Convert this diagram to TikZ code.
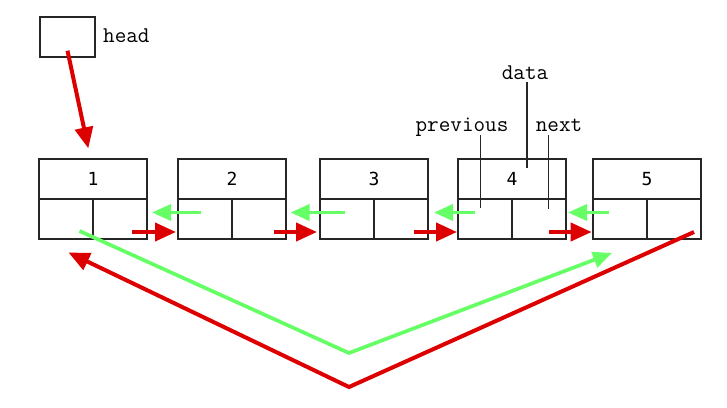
\documentclass[tikz,border=0pt]{standalone}
\usepackage{fontspec}
\newfontfamily\numfont{DejaVu Sans Mono}
\usetikzlibrary{arrows.meta,calc}
\definecolor{ptrred}{RGB}{221,0,0}
\definecolor{ptrgreen}{RGB}{102,255,102}
\begin{document}
\begin{tikzpicture}[x=1pt,y=-1pt,
  cell/.style={draw=black!85, line width=1.3pt, minimum width=54pt, minimum height=40pt, inner sep=0pt, outer sep=0pt},
  datacell/.style={cell, minimum width=108pt, font=\numfont\fontsize{18}{18}\selectfont},
  lab/.style={font=\ttfamily\fontsize{22.5}{22.5}\selectfont, inner sep=0pt, anchor=base},
  nextptr/.style={ptrred, line width=4pt, -{Triangle[length=21pt,width=18pt]}},
  prevptr/.style={ptrgreen, line width=3.7pt, -{Triangle[length=19pt,width=16pt]}},
  leader/.style={draw=black!85, line width=1.3pt}]

\useasboundingbox (0,0) rectangle (727,407);

% list nodes
\foreach \i/\x in {1/39,2/178,3/320,4/458,5/593}{
  \node[datacell] (b\i d) at (\x+54,179) {\i};
  \node[cell] (b\i p) at (\x+27,219) {};
  \node[cell] (b\i n) at (\x+81,219) {};
}

% head
\node[cell, minimum width=55pt] (hd) at (67.5,37) {};
\node[lab, anchor=base west] (lblHead) at (103,42.3) {head};

% labels
\node[lab] (lblData) at (525,79) {data};
\node[lab] (lblPrev) at (462,131.7) {previous};
\node[lab] (lblNext) at (559,131.7) {next};
\coordinate (dataend) at ($(b4d.center)+(15,-11)$);
\coordinate (prevend) at ($(b4p.center)+(-4.3,-10.7)$);
\coordinate (nextend) at ($(b4n.center)+(9.3,-10)$);
\draw[leader] ($(dataend |- lblData.base)+(0,3)$) -- (dataend);
\draw[leader] ($(prevend |- lblPrev.base)+(0,3.3)$) -- (prevend);
\draw[leader] ($(nextend |- lblNext.base)+(0,3.3)$) -- (nextend);

% head pointer
\draw[nextptr] ($(hd.center)+(0,13.7)$) -- ($(b1d.north)+(-4.7,-10.7)$);

% next pointers
\draw[nextptr] ($(b1n.center)+(12,13)$) -- ($(b2p.west)+(-2,13)$);
\draw[nextptr] ($(b2n.center)+(15,13)$) -- ($(b3p.west)+(-3,13)$);
\draw[nextptr] ($(b3n.center)+(13.3,13)$) -- ($(b4p.west)+(-1,13)$);
\draw[nextptr] ($(b4n.center)+(10,13)$) -- ($(b5p.west)+(-1.3,13)$);

% previous pointers
\draw[prevptr] ($(b2p.center)+(-4,-6.5)$) -- ($(b1n.east)+(5,-6.5)$);
\draw[prevptr] ($(b3p.center)+(-2,-6.5)$) -- ($(b2n.east)+(4.5,-6.5)$);
\draw[prevptr] ($(b4p.center)+(-10,-6.5)$) -- ($(b3n.east)+(6,-6.5)$);
\draw[prevptr] ($(b5p.center)+(-11,-6.5)$) -- ($(b4n.east)+(2,-6.5)$);

% wrap-around pointers
\coordinate (gv) at (349,353);
\coordinate (rv) at (349,387);
\draw[prevptr] ($(b1p.center)+(13.5,12)$) -- (gv) -- ($(b5p.south)+(-8,14)$);
\draw[nextptr] ($(b5n.center)+(20,13)$) -- (rv) -- ($(b1p.south)+(2.5,13.5)$);
\end{tikzpicture}
\end{document}
